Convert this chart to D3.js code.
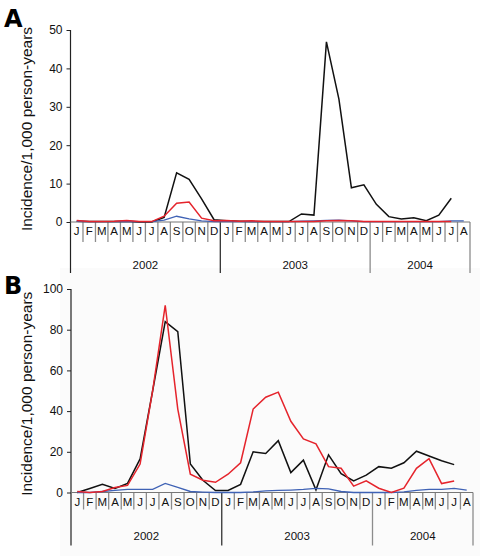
<!DOCTYPE html>
<html>
<head>
<meta charset="utf-8">
<script src="https://cdn.jsdelivr.net/npm/d3@7"></script>
<style>
  html, body { margin: 0; padding: 0; background: #fff; }
  svg { display: block; font-family: "Liberation Sans", Arial, sans-serif; }
</style>
</head>
<body>
<svg id="chart" width="480" height="556"></svg>
<script>
// ---- Data ----
const months = ["J","F","M","A","M","J","J","A","S","O","N","D",
                "J","F","M","A","M","J","J","A","S","O","N","D",
                "J","F","M","A","M","J","J","A"];
const years = [
  { label: "2002", start: 0, end: 12 },
  { label: "2003", start: 12, end: 24 },
  { label: "2004", start: 24, end: 32 }
];
const ticksA = [0, 10, 20, 30, 40, 50];
const ticksB = [0, 20, 40, 60, 80, 100];

// Panel A series
const aBlack = [0.2,0.1,0.1,0.1,0.2,0,0,1.2,12.8,11.1,6,0.6,
                0.3,0.2,0.1,0.1,0.1,0.1,2.1,1.8,46.9,32,8.9,9.7,
                4.6,1.4,0.8,1.1,0.35,1.8,6.2,null];
const aRed   = [0.4,0.1,0.1,0.2,0.4,0.1,0.1,1.5,4.9,5.2,1,0.3,
                0.4,0.2,0.3,0.1,0.1,0.1,0.1,0.1,0.3,0.4,0.3,0.1,
                0.1,0.1,0.1,0.1,0.1,0.1,0.1,null];
const aBlue  = [0.2,0.1,0.1,0.1,0.2,0.1,0.1,0.5,1.5,0.8,0.3,0.1,
                0.1,0.1,0.1,0.1,0.1,0.1,0.2,0.3,0.4,0.5,0.3,0.1,
                0.1,0.1,0.1,0.1,0.1,0.1,0.3,0.3];

// Panel B series
const bBlack = [0,2,4,2,4.5,16.5,50,84,79,14,6,1,
                1,4,20,19.2,25.5,9.8,15.9,1.3,18.5,9.3,5.7,8.5,
                12.7,11.9,14.6,20.3,17.9,15.6,13.7,null];
const bRed   = [0.5,0,0.5,2.5,3.5,14,50,92,41,9,6,5,
                9,14.6,41,46.8,49.3,35,26.3,23.9,12.7,11.9,3.1,5.7,
                2.1,0,2.1,11.9,16.6,4.4,5.7,null];
const bBlue  = [0,0,0.5,1,1.5,1.5,1.5,4.5,2.5,0.5,0.2,0,
                0,0,0.3,0.8,1,1.2,1.5,2,1.8,0.5,0,0,
                0,0,0.3,1,1.5,1.5,2,1.2];

const yTitle = "Incidence/1,000 person-years";

// ---- Drawing ----
const svg = d3.select("#chart");

// light panel B background
svg.append("rect").attr("x", 60).attr("y", 268).attr("width", 420).attr("height", 288)
  .attr("fill", "#fbfbfb");

function panel(cfg) {
  const g = svg.append("g");
  const x = d3.scaleLinear().domain([0, months.length]).range([cfg.x0, cfg.x1]);
  const y = d3.scaleLinear().domain([0, cfg.max]).range([cfg.base, cfg.top]);

  // y axis
  const yAxis = d3.axisLeft(y).tickValues(cfg.ticks).tickSize(4).tickPadding(4);
  const ya = g.append("g").attr("transform", `translate(${cfg.x0},0)`).call(yAxis);
  ya.select(".domain").remove();
  ya.selectAll("line").attr("stroke", "#222");
  ya.selectAll("text").attr("font-size", 12).attr("fill", "#111")
    .attr("font-family", "Liberation Sans, Arial, sans-serif");
  g.append("line").attr("x1", cfg.x0).attr("x2", cfg.x0)
    .attr("y1", cfg.top).attr("y2", cfg.base + cfg.yearDrop)
    .attr("stroke", "#222").attr("stroke-width", 1.2);

  // month separators
  d3.range(1, months.length + 1).forEach(i => {
    const isYear = years.some(yy => yy.end === i);
    g.append("line").attr("x1", x(i)).attr("x2", x(i))
      .attr("y1", cfg.base).attr("y2", cfg.base + (isYear ? cfg.yearDrop : cfg.monthDrop))
      .attr("stroke", i === 12 ? "#333" : "#8c8c8c").attr("stroke-width", 1.3);
  });
  // baseline
  g.append("line").attr("x1", cfg.x0).attr("x2", cfg.x1)
    .attr("y1", cfg.base).attr("y2", cfg.base)
    .attr("stroke", "#777").attr("stroke-width", 1.2);

  // month labels
  g.selectAll(".m").data(months).enter().append("text")
    .attr("x", (d, i) => x(i + 0.5)).attr("y", cfg.base + 13)
    .attr("text-anchor", "middle").attr("font-size", 11.5).attr("fill", "#111")
    .text(d => d);
  // year labels
  g.selectAll(".yr").data(years).enter().append("text")
    .attr("x", d => x((d.start + d.end) / 2)).attr("y", cfg.base + 47)
    .attr("text-anchor", "middle").attr("font-size", 11.5).attr("fill", "#111")
    .text(d => d.label);

  // y title
  g.append("text")
    .attr("transform", `translate(${cfg.titleX},${(cfg.top + cfg.base) / 2 + 3}) rotate(-90)`)
    .attr("text-anchor", "middle").attr("font-size", 15.5).attr("fill", "#111")
    .text(yTitle);

  // panel letter
  g.append("text").attr("x", 4).attr("y", cfg.letterY)
    .attr("font-size", 24).attr("font-weight", "bold").attr("fill", "#000")
    .attr("font-family", "DejaVu Sans, sans-serif")
    .text(cfg.letter);

  const line = d3.line().defined(d => d != null)
    .x((d, i) => x(i + 0.5)).y(d => y(d));
  cfg.series.forEach(s => {
    g.append("path").datum(s.values)
      .attr("fill", "none").attr("stroke", s.color).attr("stroke-width", s.w)
      .attr("stroke-linejoin", "miter")
      .attr("d", line);
  });
}

panel({
  letter: "A", letterY: 27, x0: 70.5, x1: 470, top: 30, base: 222, max: 50, ticks: ticksA,
  monthDrop: 20, yearDrop: 51, titleX: 32,
  series: [
    { values: aBlack, color: "#111", w: 1.5 },
    { values: aBlue, color: "#3f62b5", w: 1.3 },
    { values: aRed, color: "#e5242c", w: 1.5 }
  ]
});

panel({
  letter: "B", letterY: 294, x0: 71, x1: 473, top: 289, base: 492.5, max: 100, ticks: ticksB,
  monthDrop: 17, yearDrop: 53, titleX: 32,
  series: [
    { values: bBlack, color: "#111", w: 1.5 },
    { values: bBlue, color: "#3f62b5", w: 1.3 },
    { values: bRed, color: "#e5242c", w: 1.5 }
  ]
});
</script>
</body>
</html>
